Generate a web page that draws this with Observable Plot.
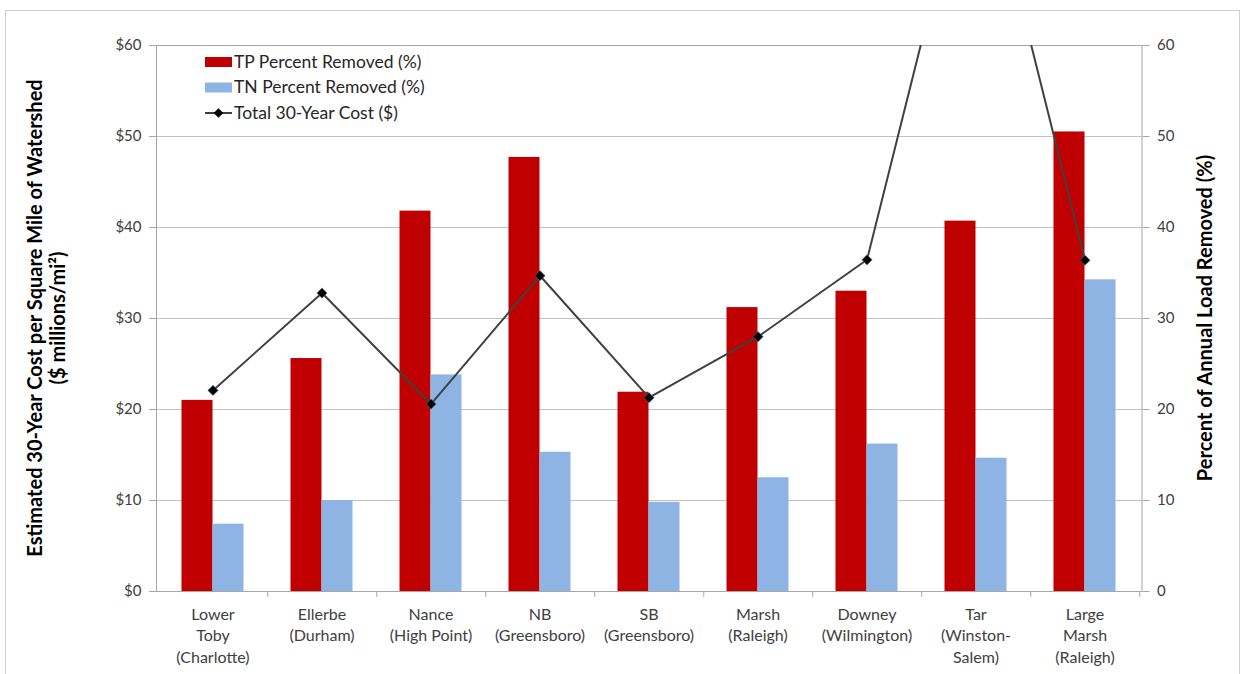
<!DOCTYPE html>
<html><head><meta charset="utf-8">
<script src="https://cdn.jsdelivr.net/npm/d3@7"></script>
<script src="https://cdn.jsdelivr.net/npm/@observablehq/plot@0.6"></script>
<style>
body{margin:0;background:#fff;}
#wrap{position:relative;width:1242px;height:674px;overflow:hidden;}
#border{position:absolute;left:5px;top:10px;width:1233px;height:700px;border:1px solid #d0d0d0;}
#chart{position:absolute;left:0;top:0;}
</style></head><body><div id="wrap"><div id="border"></div><div id="chart"></div></div>
<script>
const categories = ["Lower Toby (Charlotte)", "Ellerbe (Durham)", "Nance (High Point)", "NB (Greensboro)", "SB (Greensboro)", "Marsh (Raleigh)", "Downey (Wilmington)", "Tar (Winston-Salem)", "Large Marsh (Raleigh)"];
const tickLabels = ["Lower\nToby\n(Charlotte)", "Ellerbe\n(Durham)", "Nance\n(High Point)", "NB\n(Greensboro)", "SB\n(Greensboro)", "Marsh\n(Raleigh)", "Downey\n(Wilmington)", "Tar\n(Winston-\nSalem)", "Large\nMarsh\n(Raleigh)"];
const tpRemoved = [21.0, 25.6, 41.8, 47.7, 21.9, 31.2, 33.0, 40.7, 50.5];
const tnRemoved = [7.4, 10.0, 23.8, 15.3, 9.8, 12.5, 16.2, 14.65, 34.25];
const totalCost = [22.1, 32.8, 20.6, 34.7, 21.3, 28.0, 36.45, 84.3, 36.4];
const yTicks = [0, 10, 20, 30, 40, 50, 60];
const seriesNames = ["TP Percent Removed (%)", "TN Percent Removed (%)", "Total 30-Year Cost ($)"];
const leftTitle = ["Estimated 30-Year Cost per Square Mile of Watershed", "($ millions/mi²)"];
const rightTitle = "Percent of Annual Load Removed (%)";

const W = 1242, H = 674, mL = 156, mR = 100.5, mT = 45, mB = 83;
const step = (W - mL - mR) / categories.length;
const bw = 31;
const pi = 1 - bw / step;
const TP = "#C00000", TN = "#8DB4E2", LINE = "#404040", GRID = "#c3c3c3", AX = "#a6a6a6";
const font = "Lato, 'Open Sans', sans-serif";

const rows = categories.map((c, i) => ({cat: c, tp: tpRemoved[i], tn: tnRemoved[i], cost: totalCost[i]}));

const plot = Plot.plot({
  width: W, height: H, marginLeft: mL, marginRight: mR, marginTop: mT, marginBottom: mB,
  style: {fontFamily: font, fontSize: "15px", color: "#404040", background: "transparent", overflow: "visible"},
  x: {domain: categories, paddingInner: pi, paddingOuter: pi / 2, axis: null},
  y: {domain: [0, 60], axis: null},
  marks: [
    Plot.gridY({ticks: yTicks, stroke: GRID, strokeOpacity: 1}),
    Plot.barY(rows, {x: "cat", y: "tp", fill: TP, dx: -bw / 2}),
    Plot.barY(rows, {x: "cat", y: "tn", fill: TN, dx: bw / 2}),
    Plot.frame({stroke: AX}),
    Plot.ruleX(categories, {x: d => d, dx: step / 2, y1: 0, y2: -0.65, stroke: AX}),
    Plot.axisY({anchor: "left", ticks: yTicks, tickSize: 7, tickPadding: 8, tickFormat: d => "$" + d, stroke: AX, fill: "#404040", label: null, fontSize: 15}),
    Plot.axisY({anchor: "right", ticks: yTicks, tickSize: 7, tickPadding: 8, tickFormat: d => String(d), stroke: AX, fill: "#404040", label: null, fontSize: 15}),
    Plot.axisX({anchor: "bottom", tickSize: 0, tickPadding: 13, lineHeight: 1.34, fill: "#404040",
      tickFormat: d => tickLabels[categories.indexOf(d)], label: null, fontSize: 16}),
    Plot.line(rows, {x: "cat", y: "cost", stroke: LINE, strokeWidth: 2, clip: true}),
    Plot.dot(rows, {x: "cat", y: "cost", symbol: "diamond2", r: 4.6, fill: "#000", stroke: "#4a6fa5", strokeWidth: 0.6, clip: true})
  ]
});
document.getElementById("chart").appendChild(plot);

const svg = d3.select(plot);
const yMid = mT + (H - mT - mB) / 2;
const tl = svg.append("g").attr("font-family", font).attr("font-weight", "bold").attr("font-size", 20).attr("fill", "#000").attr("text-anchor", "middle");
tl.append("text").attr("transform", `translate(37,${yMid}) rotate(-90)`).attr("dominant-baseline", "middle").text(leftTitle[0]);
tl.append("text").attr("transform", `translate(60,${yMid}) rotate(-90)`).attr("dominant-baseline", "middle").text(leftTitle[1]);
tl.append("text").attr("transform", `translate(1207,${yMid}) rotate(-90)`).attr("dominant-baseline", "middle").text(rightTitle);

// legend
const lg = svg.append("g").attr("font-family", font).attr("font-size", 17.5).attr("fill", "#262626").attr("text-anchor", "start");
const lx = 205, ly = [62, 87.5, 113];
lg.append("rect").attr("x", lx).attr("y", ly[0] - 5).attr("width", 27).attr("height", 10).attr("fill", TP);
lg.append("rect").attr("x", lx).attr("y", ly[1] - 5).attr("width", 27).attr("height", 10).attr("fill", TN);
lg.append("line").attr("x1", lx).attr("x2", lx + 27).attr("y1", ly[2]).attr("y2", ly[2]).attr("stroke", LINE).attr("stroke-width", 2);
lg.append("path").attr("d", d3.symbol(d3.symbolDiamond2, 60)()).attr("transform", `translate(${lx + 13.5},${ly[2]})`).attr("fill", "#000");
seriesNames.forEach((s, i) => lg.append("text").attr("x", lx + 29).attr("y", ly[i] + 1.5).attr("dominant-baseline", "middle").text(s));
</script></body></html>
